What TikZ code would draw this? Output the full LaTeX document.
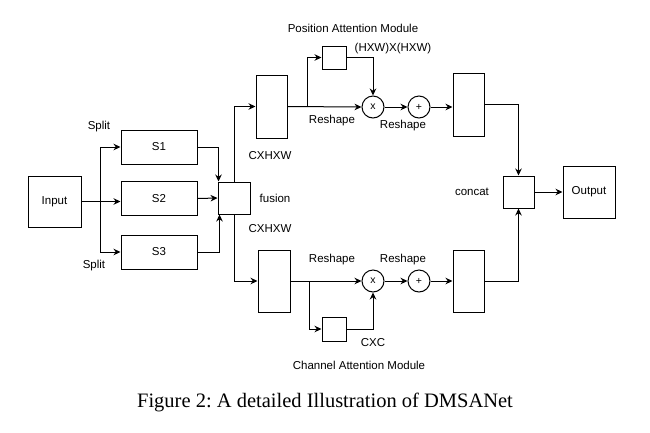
\documentclass[tikz,border=0pt]{standalone}
\usepackage{fontspec}
\setmainfont{Liberation Sans}
\newfontfamily\capfont{Liberation Serif}
\usetikzlibrary{arrows.meta,calc}

\tikzset{
  blk/.style={draw=black, line width=1pt, inner sep=0pt, font=\fontsize{11.5}{13}\selectfont},
  opc/.style={draw=black, line width=1pt, circle, inner sep=0pt, minimum size=22pt, font=\fontsize{10.5}{12}\selectfont},
  lbl/.style={inner sep=0pt, font=\fontsize{11.5}{13}\selectfont},
  con/.style={line width=1pt, -{Stealth[length=7pt,width=6.5pt]}},
  wire/.style={line width=1pt}
}

\begin{document}
\begin{tikzpicture}[x=1pt,y=-1pt]
\useasboundingbox (0,0) rectangle (650,432);
% input and split branches
\node[blk, minimum width=53pt, minimum height=51pt] (inp) at (54.5,201.5) {Input};
\node[blk, minimum width=76pt, minimum height=34pt] (s1) at (159,147) {S1};
\node[blk, minimum width=76pt, minimum height=34pt] (s2) at (159,198.5) {S2};
\node[blk, minimum width=76pt, minimum height=34pt] (s3) at (159,252) {S3};
\node[blk, minimum width=32pt, minimum height=32pt] (fus) at (234,198) {};
\coordinate (sp) at (100,201.5);
% attention branches
\node[blk, minimum width=31pt, minimum height=63pt] (up1) at (271.5,106.5) {};
\node[blk, minimum width=32pt, minimum height=62pt] (low1) at (274,281) {};
\node[blk, minimum width=24pt, minimum height=23pt] (pam) at (334,57.5) {};
\node[blk, minimum width=24pt, minimum height=24pt] (cam) at (334,329) {};
\node[opc] (mul1) at (373,107) {x};
\node[opc] (add1) at (419,107) {+};
\node[opc] (mul2) at (373,281) {x};
\node[opc] (add2) at (419,281) {+};
\coordinate (br1) at (307,107);
\coordinate (br2) at (309,281);
\node[blk, minimum width=31pt, minimum height=63pt] (up2) at (468.5,104.5) {};
\node[blk, minimum width=31pt, minimum height=62pt] (low2) at (468.5,281) {};
% output
\node[blk, minimum width=31pt, minimum height=32pt] (cat) at (518.5,192) {};
\node[blk, minimum width=52pt, minimum height=52pt] (out) at (589,192) {Output};

% connectors
\draw[wire] (inp.east) -- (sp);
\draw[con] (sp) |- (s1.west);
\draw[con] (sp) -- (sp -| s2.west);
\draw[con] (sp) |- (s3.west);
\draw[con] (s1.east) -| ([xshift=1pt]fus.north west);
\draw[con] (s2.east) -- (fus.west);
\draw[con] (s3.east) -| ([xshift=2pt]fus.south west);
\draw[con] (fus.north) |- (up1.west);
\draw[con] (fus.south) |- (low1.west);
\draw[con] (up1.east) -- (mul1.west);
\draw[con] (br1) |- (pam.west);
\draw[con] (pam.east) -| (mul1.north);
\draw[con] (mul1.east) -- (add1.west);
\draw[con] (add1.east) -- (add1.east -| up2.west);
\draw[con] (low1.east) -- (mul2.west);
\draw[con] (br2) |- (cam.west);
\draw[con] (cam.east) -| (mul2.south);
\draw[con] (mul2.east) -- (add2.west);
\draw[con] (add2.east) -- (low2.west);
\draw[con] (up2.east) -| (cat.north);
\draw[con] (low2.east) -| (cat.south);
\draw[con] (cat.east) -- (out.west);

% labels
\node[lbl] (tsplit1) at (99,127) {Split};
\node[lbl] (tsplit2) at (94,266) {Split};
\node[lbl] (tfus) at (275,198) {fusion};
\node[lbl] (tdim1) at (270,156) {CXHXW};
\node[lbl] (tdim2) at (270,229) {CXHXW};
\node[lbl] (tpam) at (353,28) {Position Attention Module};
\node[lbl] (tpos) at (393,49) {(HXW)X(HXW)};
\node[lbl] (trs1) at (332,121) {Reshape};
\node[lbl] (trs2) at (403,126) {Reshape};
\node[lbl] (trs3) at (332,260) {Reshape};
\node[lbl] (trs4) at (403,260) {Reshape};
\node[lbl] (tcxc) at (373,343) {CXC};
\node[lbl] (tcam) at (359,365) {Channel Attention Module};
\node[lbl] (tcat) at (472,192) {concat};
\node[inner sep=0pt, font=\capfont\fontsize{20.5}{23}\selectfont] (cap) at (325,402) {Figure 2:\ A detailed Illustration of DMSANet};
\end{tikzpicture}
\end{document}
